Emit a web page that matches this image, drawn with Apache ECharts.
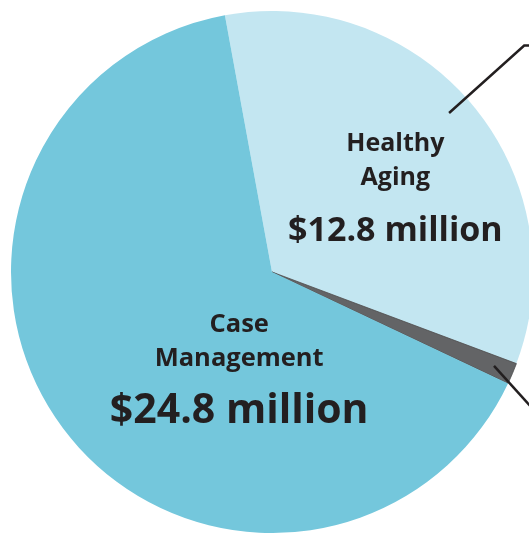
<!DOCTYPE html>
<html>
<head>
<meta charset="utf-8">
<script src="https://cdn.jsdelivr.net/npm/echarts@6/dist/echarts.min.js"></script>
<style>html,body{margin:0;padding:0;background:#fff;}#c{width:529px;height:533px;}</style>
</head>
<body>
<div id="c"></div>
<script>
var categories = ['Healthy\nAging', 'Other', 'Case\nManagement'];
var values = [12.8, 0.5, 24.8];
var valueLabels = ['$12.8 million', '', '$24.8 million'];
var colors = ['#c3e6f1', '#636466', '#74c7dc'];

var CX = 272, CY = 272, R = 261;
var START = -10.4; // degrees clockwise from top
var total = values.reduce(function (a, b) { return a + b; }, 0);
function midAngle(i) {
  var cum = 0;
  for (var k = 0; k < i; k++) cum += values[k];
  return START + (cum + values[i] / 2) / total * 360;
}
function polar(angDeg, r) {
  var a = angDeg * Math.PI / 180;
  return [CX + r * Math.sin(a), CY - r * Math.cos(a)];
}
// callout lines
var a0 = midAngle(0) - 2;
var p0 = polar(a0, 238), p1 = polar(a0, 339);
var line1 = [p0, p1, [p1[0] + 40, p1[1]]];
var a1 = midAngle(1);
var q0 = polar(a1, 241);
var dir = 138 * Math.PI / 180;
var line2 = [q0, [q0[0] + 70 * Math.sin(dir), q0[1] - 70 * Math.cos(dir)]];

var shifts = [[21, 11], [0, 0], [73, 24]];
var nameSizes = [25, 0, 25.5];
var valueSizes = [34, 0, 41];

var chart = echarts.init(document.getElementById('c'));
chart.setOption({
  animation: false,
  series: [{
    type: 'pie',
    center: [CX, CY],
    radius: [0, R],
    startAngle: 90 - START,
    clockwise: true,
    silent: true,
    label: { show: false },
    labelLine: { show: false },
    labelLayout: function (p) {
      var s = shifts[p.dataIndex];
      return { dx: s[0], dy: s[1] };
    },
    data: values.map(function (v, i) {
      return {
        name: categories[i],
        value: v,
        itemStyle: { color: colors[i], borderWidth: i === 1 ? 0.8 : 0, borderColor: '#4a4b4d' },
        label: {
          show: i !== 1,
          position: 'inside',
          formatter: '{n|' + categories[i].split('\n').join('}\n{n|') + '}\n{v|' + valueLabels[i] + '}',
          rich: {
            n: { fontFamily: 'Open Sans', fontWeight: 'bold', fontSize: nameSizes[i], lineHeight: 34, color: '#231f20', align: 'center' },
            v: { fontFamily: 'Open Sans', fontWeight: 'bold', fontSize: valueSizes[i], lineHeight: 72, color: '#231f20', align: 'center' }
          }
        }
      };
    })
  }],
  graphic: [
    { type: 'polyline', shape: { points: line1 }, style: { stroke: '#231f20', lineWidth: 2.5, fill: null }, z: 10 },
    { type: 'polyline', shape: { points: line2 }, style: { stroke: '#231f20', lineWidth: 2.5, fill: null }, z: 10 }
  ]
});
</script>
</body>
</html>
